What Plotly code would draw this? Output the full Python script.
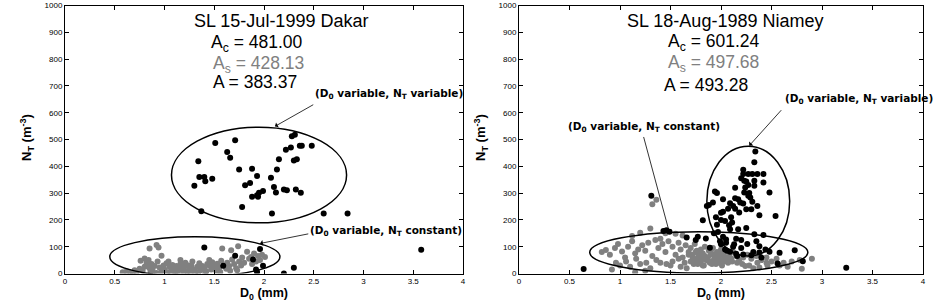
import plotly.graph_objects as go
from plotly.subplots import make_subplots

# ---------------- data ----------------
x_ticks = [0, 0.5, 1, 1.5, 2, 2.5, 3, 3.5, 4]
x_tick_labels = ["0", "0.5", "1", "1.5", "2", "2.5", "3", "3.5", "4"]
y_ticks = [0, 100, 200, 300, 400, 500, 600, 700, 800, 900, 1000]

dakar_title = "SL 15-Jul-1999 Dakar"
dakar_stats = ["481.00", "428.13", "383.37"]
niamey_title = "SL 18-Aug-1989 Niamey"
niamey_stats = ["601.24", "497.68", "493.28"]

# Dakar: D0 variable, NT variable (black)
dakar_black_d0 = [1.34, 1.35, 1.40, 1.41, 1.48, 1.30, 1.37, 1.51, 1.63, 1.66, 1.71, 1.75, 1.78, 1.81,
                  1.86, 1.88, 1.93, 1.88, 1.93, 1.95, 1.94, 1.99, 2.07, 2.08, 2.10, 2.12, 2.13, 2.15,
                  2.20, 2.23, 2.22, 2.27, 2.28, 2.31, 2.30, 2.33, 2.32, 2.37, 2.36, 2.38, 2.48, 2.60,
                  2.84, 3.58, 1.40, 1.96, 1.71, 1.59, 1.89, 1.99, 1.92, 2.30, 2.20, 1.93]
dakar_black_nt = [419, 360, 360, 344, 354, 327, 232, 487, 453, 432, 497, 388, 248, 329,
                  338, 391, 364, 286, 292, 301, 286, 308, 357, 224, 323, 302, 388, 426,
                  313, 311, 462, 470, 512, 518, 422, 426, 313, 301, 477, 477, 477, 224,
                  224, 89, 97, 91, 66, 29, 52, 29, 15, 21, 0, 6]

# Dakar: D0 variable, NT constant (grey)
dakar_grey_d0 = [0.58, 0.62, 0.66, 0.70, 0.72, 0.75, 0.78, 0.80, 0.80, 0.82, 0.83, 0.85, 0.85, 0.87,
                 0.88, 0.90, 0.92, 0.93, 0.94, 0.95, 0.97, 0.97, 0.99, 1.00, 1.02, 1.03, 1.05, 1.07,
                 1.08, 1.10, 1.12, 1.13, 1.15, 1.16, 1.18, 1.20, 1.21, 1.23, 1.25, 1.27, 1.28, 1.30,
                 1.31, 1.33, 1.35, 1.36, 1.38, 1.40, 1.42, 1.43, 1.45, 1.47, 1.48, 1.50, 1.52, 1.53,
                 1.55, 1.57, 1.58, 1.60, 1.62, 1.63, 1.65, 1.67, 1.68, 1.70, 1.72, 1.74, 1.75, 1.77,
                 1.78, 1.80, 1.83, 1.85, 1.87, 1.88, 1.90, 1.92, 1.94, 1.96, 1.98, 2.01, 0.76, 0.84,
                 1.04, 1.16, 1.24, 1.45, 0.68, 0.86, 1.11, 1.19, 1.26, 1.34, 1.41, 1.56, 1.66, 1.73,
                 0.92, 1.06]
dakar_grey_nt = [5, 8, 3, 12, 6, 18, 10, 25, 56, 40, 30, 93, 20, 35,
                 12, 28, 106, 45, 97, 22, 66, 8, 30, 15, 38, 5, 25, 18,
                 32, 10, 28, 3, 20, 35, 12, 25, 40, 8, 18, 30, 45, 15,
                 5, 25, 38, 12, 28, 20, 8, 35, 30, 15, 42, 25, 10, 36,
                 22, 48, 93, 30, 18, 40, 28, 87, 52, 35, 20, 102, 45, 30,
                 60, 40, 81, 55, 62, 35, 75, 45, 65, 50, 70, 62, 48, 50,
                 45, 50, 30, 50, 2, 6, 4, 2, 3, 5, 2, 6, 10, 12,
                 2, 2]

# Niamey: D0 variable, NT variable (black)
niamey_black_d0 = [2.34, 2.33, 2.22, 2.22, 2.27, 2.31, 2.36, 2.42, 2.23, 2.25, 2.33, 2.33, 2.42, 2.24,
                   2.23, 2.27, 2.29, 2.48, 1.94, 1.96, 2.02, 2.14, 2.17, 1.92, 1.88, 1.86, 2.09, 2.12,
                   2.19, 2.22, 2.07, 2.14, 2.25, 2.30, 2.36, 2.00, 2.38, 2.54, 1.82, 2.00, 2.04, 1.96,
                   2.09, 2.17, 1.97, 2.25, 2.33, 2.42, 2.02, 2.05, 1.77, 1.85, 2.15, 1.89, 2.04, 2.09,
                   2.15, 2.22, 2.32, 2.38, 2.48, 2.58, 2.73, 2.81, 2.56, 3.24, 0.64, 1.31, 1.43, 1.46,
                   1.49, 1.66, 2.00, 2.13, 2.38, 2.10, 2.18, 2.28, 1.99, 2.05, 2.12, 2.20, 2.26, 2.35,
                   2.44, 2.06, 2.16, 2.30, 1.93, 2.11, 2.27, 2.20, 2.40, 1.75, 1.95, 2.02, 2.08, 2.20,
                   2.14, 2.31]
niamey_black_nt = [455, 415, 387, 371, 371, 371, 371, 371, 346, 343, 346, 327, 340, 321,
                   302, 290, 284, 302, 306, 300, 277, 281, 277, 265, 256, 252, 262, 252,
                   265, 261, 242, 242, 240, 240, 252, 227, 217, 215, 199, 200, 196, 182,
                   165, 165, 155, 170, 146, 144, 137, 127, 137, 131, 130, 96, 90, 81,
                   74, 71, 80, 102, 81, 77, 87, 46, 37, 21, 17, 290, 159, 161,
                   156, 134, 109, 109, 78, 210, 228, 300, 120, 115, 100, 95, 110, 120,
                   90, 85, 65, 68, 150, 190, 330, 355, 60, 125, 210, 230, 180, 125,
                   320, 268]

# Niamey: D0 variable, NT constant (grey)
niamey_grey_d0 = [1.32, 1.36, 1.30, 1.20, 1.12, 1.40, 1.45, 1.55, 1.62, 0.82, 0.86, 0.90, 0.95, 0.98,
                  1.02, 1.05, 1.08, 1.12, 1.15, 1.18, 1.22, 1.25, 1.28, 1.32, 1.35, 1.38, 1.42, 1.45,
                  1.48, 1.52, 1.55, 1.58, 1.60, 1.62, 1.65, 1.68, 1.70, 1.72, 1.74, 1.76, 1.78, 1.80,
                  1.82, 1.84, 1.86, 1.88, 1.90, 1.92, 1.94, 1.96, 1.98, 2.00, 2.02, 2.04, 2.06, 2.08,
                  2.10, 2.12, 2.15, 2.18, 2.22, 2.26, 2.30, 2.35, 2.40, 2.45, 2.50, 2.55, 2.62, 2.70,
                  2.78, 2.90, 1.00, 1.10, 1.20, 1.30, 1.40, 1.50, 1.60, 1.66, 1.70, 1.73, 1.76, 1.79,
                  1.82, 1.85, 1.88, 1.91, 1.94, 1.97, 2.00, 2.03, 2.07, 2.11, 2.16, 2.21, 2.28, 2.36,
                  2.46, 1.68, 1.72, 1.75, 1.78, 1.81, 1.84, 1.87, 1.90, 1.93, 1.96, 1.99, 2.02, 2.05,
                  2.09, 1.74, 1.80, 1.86, 1.92, 1.98, 2.04, 1.77, 1.83, 1.89, 1.95, 2.01, 1.64, 1.58,
                  1.52, 1.46, 1.36, 1.26, 1.16, 1.06, 0.96, 0.92, 1.25, 1.15, 2.58, 2.66, 2.80, 2.45,
                  2.38, 2.32, 2.24]
niamey_grey_nt = [258, 275, 168, 152, 140, 130, 150, 148, 142, 80, 88, 70, 95, 110,
                  82, 60, 100, 120, 75, 90, 105, 85, 115, 65, 125, 95, 110, 80,
                  120, 100, 70, 115, 90, 60, 105, 80, 95, 70, 110, 85, 65, 90,
                  75, 100, 60, 85, 70, 95, 55, 80, 65, 90, 75, 60, 85, 70,
                  55, 80, 65, 50, 60, 70, 55, 65, 50, 60, 45, 55, 40, 45,
                  50, 55, 30, 25, 35, 20, 40, 30, 25, 20, 45, 35, 55, 40,
                  30, 50, 45, 35, 60, 40, 50, 45, 40, 45, 40, 35, 30, 40,
                  30, 70, 60, 80, 75, 55, 65, 60, 80, 70, 65, 75, 70, 55,
                  60, 50, 45, 55, 48, 52, 60, 35, 30, 40, 35, 30, 40, 55,
                  45, 35, 50, 40, 55, 45, 40, 15, 10, 5, 30, 25, 18, 40,
                  22, 20, 28]

# ---------------- figure ----------------
W, H = 937, 304
fig = make_subplots(rows=1, cols=2)

BLACK = "#000000"
GREY = "#808080"
MS = 6

def add_points(col, gx, gy, bx, by):
    fig.add_trace(go.Scatter(x=gx, y=gy, mode="markers",
                             marker=dict(color=GREY, size=MS, line=dict(width=0)),
                             showlegend=False, hoverinfo="skip"), row=1, col=col)
    fig.add_trace(go.Scatter(x=bx, y=by, mode="markers",
                             marker=dict(color=BLACK, size=MS, line=dict(width=0)),
                             showlegend=False, hoverinfo="skip"), row=1, col=col)

add_points(1, dakar_grey_d0, dakar_grey_nt, dakar_black_d0, dakar_black_nt)
add_points(2, niamey_grey_d0, niamey_grey_nt, niamey_black_d0, niamey_black_nt)

FONT = "Liberation Sans, Arial, sans-serif"
WIDE = "DejaVu Sans, Liberation Sans, sans-serif"
axis_common = dict(showline=True, linecolor="black", linewidth=1, mirror="ticks",
                   ticks="inside", ticklen=4, tickcolor="black", showgrid=False,
                   zeroline=False, automargin=False,
                   tickfont=dict(family=FONT, size=8, color="black"))

ydom = [1 - 273.5 / H, 1 - 5.5 / H]
fig.update_xaxes(**axis_common, range=[0, 4], tickvals=x_ticks, ticktext=x_tick_labels)
fig.update_yaxes(**axis_common, range=[0, 1000], tickvals=y_ticks)
fig.update_layout(
    xaxis=dict(domain=[65 / W, 463 / W]),
    xaxis2=dict(domain=[519 / W, 923 / W]),
    yaxis=dict(domain=ydom),
    yaxis2=dict(domain=ydom),
)

# axis titles
for cx in [264, 721]:
    fig.add_annotation(xref="paper", yref="paper", x=cx / W, y=1 - 293.5 / H,
                       xanchor="center", yanchor="middle",
                       text="<b>D<sub>0</sub> (mm)</b>", showarrow=False,
                       font=dict(family=FONT, size=12.5, color="black"))
for cx in [27, 481]:
    fig.add_annotation(xref="paper", yref="paper", x=cx / W, y=1 - 138 / H,
                       xanchor="center", yanchor="middle",
                       text="<b>N<sub>T</sub> (m<sup>-3</sup>)</b>", showarrow=False,
                       textangle=-90, font=dict(family=FONT, size=13, color="black"))

# ellipses (annotation shapes)
ellipses = [
    ("x", "y", 1.07, 2.83, 189, 546),
    ("x", "y", 0.45, 2.16, -12, 137),
    ("x2", "y2", 1.86, 2.68, 65, 475),
    ("x2", "y2", 0.70, 2.86, 2, 156),
]
for xr, yr, x0, x1, y0, y1 in ellipses:
    fig.add_shape(type="circle", xref=xr, yref=yr, x0=x0, x1=x1, y0=y0, y1=y1,
                  line=dict(color="black", width=1.5), layer="above")

# stats text
def add_stats(xr, yr, title, tx, ty, stats, sx, sys):
    fig.add_annotation(xref=xr, yref=yr, x=tx, y=ty, text=title, showarrow=False,
                       font=dict(family=FONT, size=18, color="black"))
    labels = ["A<sub>c</sub> = ", "A<sub>s</sub> = ", "A = "]
    colors = ["black", GREY, "black"]
    for lab, val, c, xx, yy in zip(labels, stats, colors, sx, sys):
        fig.add_annotation(xref=xr, yref=yr, x=xx, y=yy, text=lab + val, showarrow=False,
                           xanchor="left", borderpad=0,
                           font=dict(family=FONT, size=17.5, color=c))

add_stats("x", "y", dakar_title, 2.17, 944, dakar_stats, [1.46, 1.48, 1.48], [858, 780, 714])
add_stats("x2", "y2", niamey_title, 2.04, 944, niamey_stats, [1.47, 1.47, 1.43], [862, 783, 705])

# labels + arrows
lab_var = "<b>(D<sub>0</sub> variable, N<sub>T</sub> variable)</b>"
lab_con = "<b>(D<sub>0</sub> variable, N<sub>T</sub> constant)</b>"
labels = [
    ("x", "y", 3.26, 668, lab_var, 2.51, 633, 2.11, 549),
    ("x", "y", 3.23, 160, lab_con, 2.46, 149, 1.96, 112),
    ("x2", "y2", 3.37, 652, lab_var, 2.61, 615, 2.28, 477),
    ("x2", "y2", 1.24, 547, lab_con, 1.23, 515, 1.49, 152),
]
for xr, yr, lx, ly, txt, tx, ty, hx, hy in labels:
    fig.add_annotation(xref=xr, yref=yr, x=lx, y=ly, text=txt, showarrow=False,
                       font=dict(family=WIDE, size=10.5, color="black"))
    fig.add_annotation(xref=xr, yref=yr, x=hx, y=hy, ax=tx, ay=ty, axref=xr, ayref=yr,
                       text="", showarrow=True, arrowhead=1, arrowsize=1.2,
                       arrowwidth=0.8, arrowcolor="black")

fig.update_layout(width=W, height=H, margin=dict(l=0, r=0, t=0, b=0, autoexpand=False),
                  paper_bgcolor="white", plot_bgcolor="white",
                  font=dict(family=FONT, color="black"), showlegend=False)

fig.write_html("out.html", config={"displayModeBar": False},
               post_script="document.body.style.margin='0';document.body.style.padding='0';")
